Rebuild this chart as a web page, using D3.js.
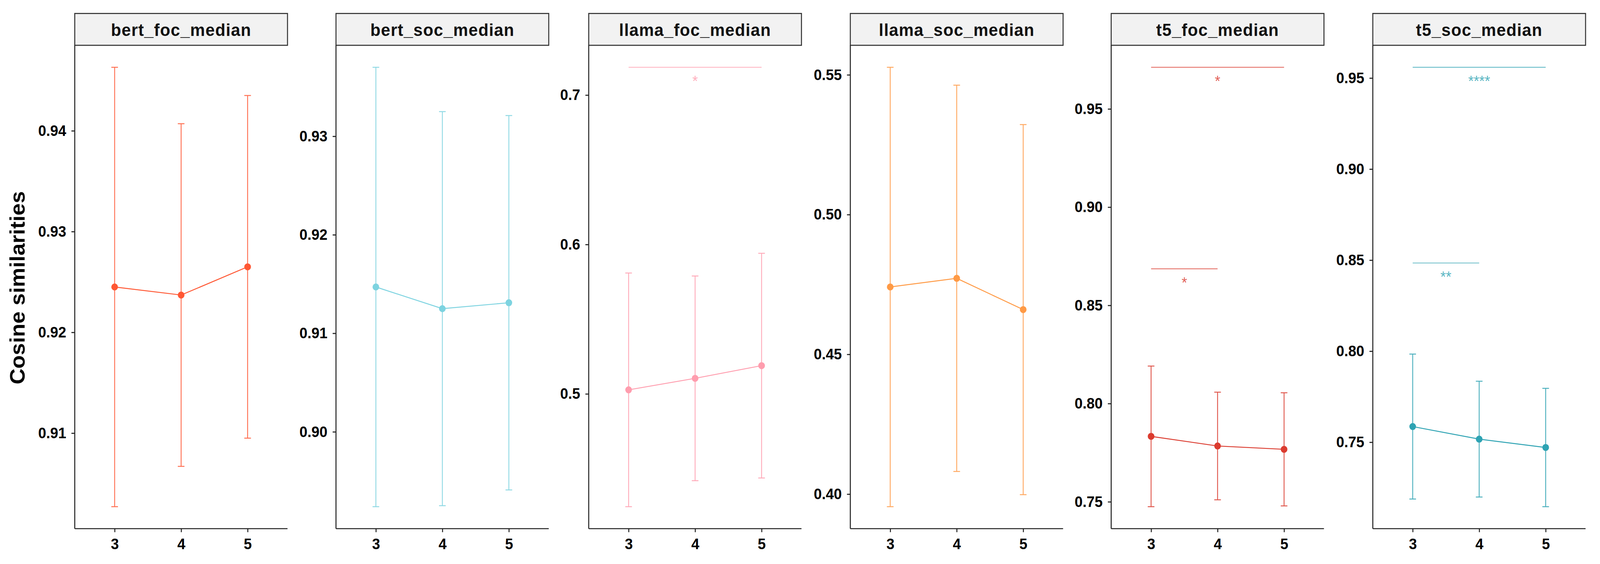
<!DOCTYPE html>
<html>
<head>
<meta charset="utf-8">
<script src="https://cdn.jsdelivr.net/npm/d3@7"></script>
<style>
  html, body { margin: 0; padding: 0; background: #ffffff; width: 100%; height: 100%; overflow: hidden; }
  svg { display: block; width: 100vw; height: 100vh; }
  text { font-family: "Liberation Sans", Arial, Helvetica, sans-serif; }
</style>
</head>
<body>
<svg id="chart" viewBox="0 0 4324 1444" preserveAspectRatio="none"></svg>
<script>
// ---------------- data ----------------
const facets = ["bert_foc_median", "bert_soc_median", "llama_foc_median",
                "llama_soc_median", "t5_foc_median", "t5_soc_median"];
const groups = ["3", "4", "5"];

const bertFocMean  = [0.9245, 0.9237, 0.9265];
const bertFocSd    = [0.0218, 0.0170, 0.0170];
const bertSocMean  = [0.9147, 0.9125, 0.9131];
const bertSocSd    = [0.0223, 0.0200, 0.0190];
const llamaFocMean = [0.5027, 0.5104, 0.5189];
const llamaFocSd   = [0.0782, 0.0685, 0.0752];
const llamaSocMean = [0.4741, 0.4772, 0.4660];
const llamaSocSd   = [0.0786, 0.0691, 0.0662];
const t5FocMean    = [0.7833, 0.7784, 0.7767];
const t5FocSd      = [0.0358, 0.0274, 0.0288];
const t5SocMean    = [0.7586, 0.7517, 0.7471];
const t5SocSd      = [0.0398, 0.0318, 0.0325];

const meansList = [bertFocMean, bertSocMean, llamaFocMean, llamaSocMean, t5FocMean, t5SocMean];
const sdList    = [bertFocSd, bertSocSd, llamaFocSd, llamaSocSd, t5FocSd, t5SocSd];

// significance brackets: [from group, to group, y value, label]
const llamaFocSig = [["3", "5", 0.7186, "*"]];
const t5FocSig    = [["3", "5", 0.9712, "*"], ["3", "4", 0.8686, "*"]];
const t5SocSig    = [["3", "5", 0.9559, "****"], ["3", "4", 0.8484, "**"]];
const sigList = [[], [], llamaFocSig, [], t5FocSig, t5SocSig];

// y tick values
const bertFocTicks  = [0.91, 0.92, 0.93, 0.94];
const bertSocTicks  = [0.90, 0.91, 0.92, 0.93];
const llamaFocTicks = [0.5, 0.6, 0.7];
const llamaSocTicks = [0.40, 0.45, 0.50, 0.55];
const t5FocTicks    = [0.75, 0.80, 0.85, 0.90, 0.95];
const t5SocTicks    = [0.75, 0.80, 0.85, 0.90, 0.95];
const tickList = [bertFocTicks, bertSocTicks, llamaFocTicks, llamaSocTicks, t5FocTicks, t5SocTicks];
const tickDecimals = [2, 2, 1, 2, 2, 2];

const yTitle = "Cosine similarities";

// ---------------- style / layout ----------------
const colors = ["#FF5733", "#7DD3E0", "#FF9DAE", "#FF9A45", "#DB3B2F", "#2EA3B3"];
const panelLeft = [202, 908, 1591, 2298, 3003, 3710];
const panelW = 575;
const stripTop = 34.5, plotTop = 116, plotBottom = 1353.5;

const svg = d3.select("#chart");
svg.append("rect").attr("width", 4324).attr("height", 1444).attr("fill", "#fff");

// y-axis title
svg.append("text")
  .attr("transform", `translate(66, ${(116 + 1353.5) / 2 + 2}) rotate(-90)`)
  .attr("text-anchor", "middle")
  .attr("font-size", 56)
  .attr("font-weight", "bold")
  .attr("fill", "#000")
  .text(yTitle);

facets.forEach((name, i) => {
  const left = panelLeft[i];
  const g = svg.append("g");
  const means = meansList[i], sds = sdList[i], sig = sigList[i];
  const col = colors[i];

  const x = d3.scalePoint().domain(groups).range([left, left + panelW]).padding(0.6);

  const vals = [];
  means.forEach((m, k) => { vals.push(m - sds[k], m + sds[k]); });
  sig.forEach(s => vals.push(s[2]));
  const [lo, hi] = d3.extent(vals);
  const pad = (hi - lo) * 0.05;
  const y = d3.scaleLinear().domain([lo - pad, hi + pad]).range([plotBottom, plotTop]);

  // strip
  g.append("rect")
    .attr("x", left).attr("y", stripTop)
    .attr("width", panelW).attr("height", plotTop - stripTop)
    .attr("fill", "#F2F2F2").attr("stroke", "#333").attr("stroke-width", 2.7);
  g.append("text")
    .attr("x", left + panelW / 2).attr("y", stripTop + 57.5)
    .attr("text-anchor", "middle")
    .attr("font-size", 45).attr("font-weight", "bold").attr("letter-spacing", 1.3)
    .attr("fill", "#111")
    .text(name);

  // error bars
  const eb = g.append("g").attr("stroke", col).attr("stroke-width", 2.4).attr("opacity", 0.85);
  groups.forEach((gr, k) => {
    const cx = x(gr);
    const y1 = y(means[k] + sds[k]), y0 = y(means[k] - sds[k]);
    eb.append("line").attr("x1", cx).attr("x2", cx).attr("y1", y1).attr("y2", y0);
    eb.append("line").attr("x1", cx - 9).attr("x2", cx + 9).attr("y1", y1).attr("y2", y1);
    eb.append("line").attr("x1", cx - 9).attr("x2", cx + 9).attr("y1", y0).attr("y2", y0);
  });

  // line
  const line = d3.line().x((d, k) => x(groups[k])).y(d => y(d));
  g.append("path").datum(means)
    .attr("d", line).attr("fill", "none")
    .attr("stroke", col).attr("stroke-width", 2.4);

  // points
  g.selectAll(null).data(means).enter().append("circle")
    .attr("cx", (d, k) => x(groups[k])).attr("cy", d => y(d))
    .attr("r", 9).attr("fill", col);

  // significance brackets
  sig.forEach(s => {
    const yy = y(s[2]);
    g.append("line")
      .attr("x1", x(s[0])).attr("x2", x(s[1]))
      .attr("y1", yy).attr("y2", yy)
      .attr("stroke", col).attr("stroke-width", 1.8).attr("opacity", 0.8);
    g.append("text")
      .attr("x", (x(s[0]) + x(s[1])) / 2).attr("y", yy + 49)
      .attr("text-anchor", "middle")
      .attr("font-size", 38)
      .attr("fill", col).attr("opacity", 0.8)
      .text(s[3]);
  });

  // axes
  const fmt = d3.format("." + tickDecimals[i] + "f");
  const ya = g.append("g").attr("transform", `translate(${left},0)`)
    .call(d3.axisLeft(y).tickValues(tickList[i]).tickFormat(fmt).tickSize(9).tickPadding(14).tickSizeOuter(0));
  const xa = g.append("g").attr("transform", `translate(0,${plotBottom})`)
    .call(d3.axisBottom(x).tickSize(9).tickPadding(16).tickSizeOuter(0));
  [ya, xa].forEach(a => {
    a.select(".domain").attr("stroke", "#222").attr("stroke-width", 2.7);
    a.selectAll(".tick line").attr("stroke", "#222").attr("stroke-width", 2.7);
    a.selectAll(".tick text").attr("font-size", 39).attr("font-weight", "bold").attr("fill", "#000")
      .attr("font-family", "'Liberation Sans', Arial, sans-serif");
  });
  ya.select(".domain").attr("d", `M0,${plotBottom}V${plotTop}`);
  xa.select(".domain").attr("d", `M${left},0H${left + panelW}`);
});
</script>
</body>
</html>
